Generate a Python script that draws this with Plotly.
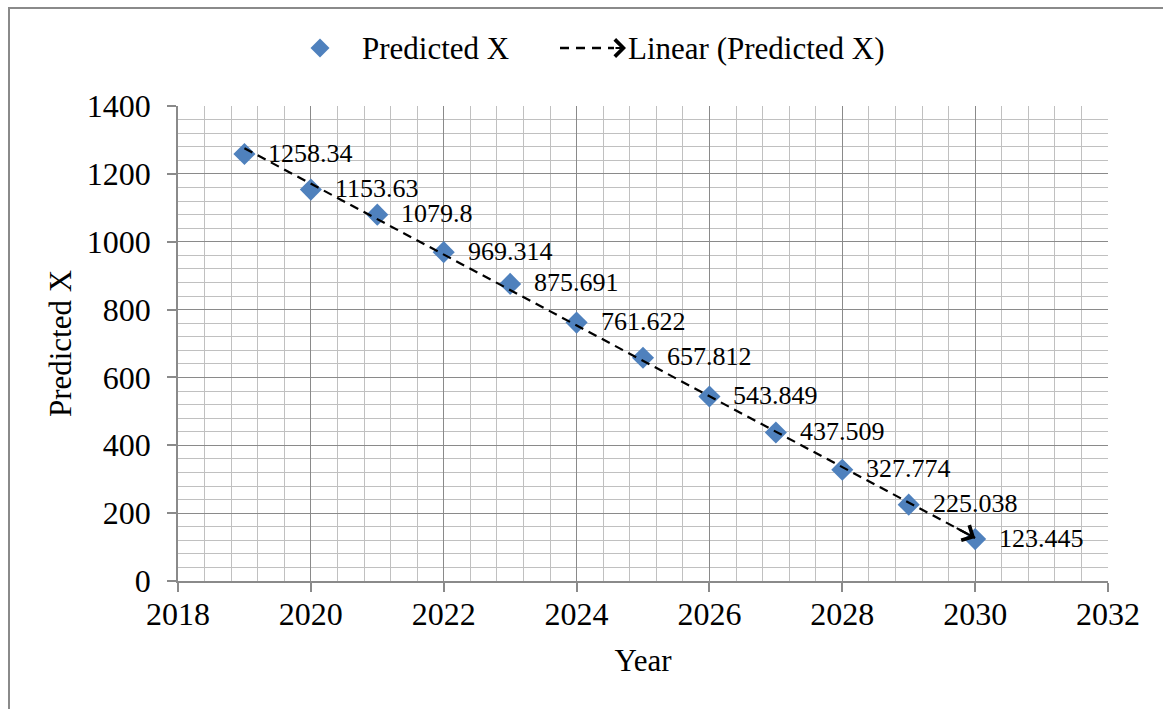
import numpy as np
import plotly.graph_objects as go

# Forecast data
years = [2019, 2020, 2021, 2022, 2023, 2024, 2025, 2026, 2027, 2028, 2029, 2030]
predicted_x = [1258.34, 1153.63, 1079.8, 969.314, 875.691, 761.622,
               657.812, 543.849, 437.509, 327.774, 225.038, 123.445]
value_labels = ["1258.34", "1153.63", "1079.8", "969.314", "875.691", "761.622",
                "657.812", "543.849", "437.509", "327.774", "225.038", "123.445"]

x_ticks = [2018, 2020, 2022, 2024, 2026, 2028, 2030, 2032]
y_ticks = [0, 200, 400, 600, 800, 1000, 1200, 1400]

series_name = "Predicted X"
trend_name = "Linear (Predicted X)"

FONT = "Liberation Serif, Times New Roman, serif"
BLUE = "#4F81BD"
MAJOR_GRID = "#8A8A8A"
MINOR_GRID = "#C0C0C0"

W, H = 1163, 709
ML, MR, MT, MB = 178, 55, 106, 128
PW, PH = W - ML - MR, H - MT - MB


def px_x(p):
    """Pixel column -> paper x."""
    return (p - ML) / PW


def px_y(p):
    """Pixel row -> paper y."""
    return (H - MB - p) / PH


# Least-squares linear trend
slope, intercept = np.polyfit(years, predicted_x, 1)
trend_x = [years[0], years[-1]]
trend_y = [slope * x + intercept for x in trend_x]

fig = go.Figure()

fig.add_trace(go.Scatter(
    x=years, y=predicted_x, mode="markers", name=series_name,
    marker=dict(symbol="diamond", size=17, color=BLUE),
    showlegend=False,
))

fig.add_trace(go.Scatter(
    x=trend_x, y=trend_y, mode="lines", name=trend_name,
    line=dict(color="black", width=2.2, dash="9px,6px"),
    showlegend=False,
))

# Value labels next to each point
for xv, yv, lab in zip(years, predicted_x, value_labels):
    fig.add_annotation(x=xv, y=yv, text=lab, showarrow=False,
                       xanchor="left", yanchor="middle", xshift=22, yshift=1,
                       font=dict(family=FONT, size=26, color="black"))

# Arrowhead at the end of the trendline
x_back = years[-1] - 0.3
fig.add_annotation(x=trend_x[1], y=trend_y[1], ax=x_back, ay=slope * x_back + intercept,
                   xref="x", yref="y", axref="x", ayref="y", text="",
                   showarrow=True, arrowhead=4, arrowsize=1.5, arrowwidth=2.2,
                   arrowcolor="black")

# Outer chart border
fig.add_shape(type="rect", xref="paper", yref="paper",
              x0=px_x(9), x1=px_x(W + 20), y0=px_y(H + 20), y1=px_y(8),
              line=dict(color="#8A8A8A", width=2), layer="below")

# Legend (drawn in paper space)
leg_y = px_y(48)
dx, dy = 9.5 / PW, 9.5 / PH
cx = px_x(320)
fig.add_shape(type="path", xref="paper", yref="paper",
              path=f"M {cx - dx} {leg_y} L {cx} {leg_y + dy} L {cx + dx} {leg_y} L {cx} {leg_y - dy} Z",
              fillcolor=BLUE, line=dict(width=0))
fig.add_annotation(x=px_x(360), y=leg_y, xref="paper", yref="paper", text=series_name,
                   showarrow=False, xanchor="left", yanchor="middle",
                   font=dict(family=FONT, size=31, color="black"))
fig.add_shape(type="line", xref="paper", yref="paper",
              x0=px_x(560), x1=px_x(614), y0=leg_y, y1=leg_y,
              line=dict(color="black", width=2.4, dash="9px,7px"))
fig.add_annotation(x=px_x(626), y=leg_y, xref="paper", yref="paper",
                   ax=-12, ay=0, text="", showarrow=True, arrowhead=4,
                   arrowsize=1.5, arrowwidth=2.2, arrowcolor="black")
fig.add_annotation(x=px_x(626), y=leg_y, xref="paper", yref="paper", text=trend_name,
                   showarrow=False, xanchor="left", yanchor="middle",
                   font=dict(family=FONT, size=31, color="black"))

axis_common = dict(
    showline=True, linecolor=MAJOR_GRID, linewidth=1.5,
    ticks="outside", ticklen=9, tickcolor=MAJOR_GRID, tickwidth=1.5,
    showgrid=True, gridcolor=MAJOR_GRID, gridwidth=1.3,
    zeroline=False, mirror=False,
    tickfont=dict(family=FONT, size=32, color="black"),
)

fig.update_xaxes(
    range=[2018, 2032], tickvals=x_ticks, ticktext=[str(v) for v in x_ticks],
    title=dict(text="Year", font=dict(family=FONT, size=31, color="black"), standoff=18),
    minor=dict(dtick=0.4, tick0=2018, showgrid=True, gridcolor=MINOR_GRID, gridwidth=1.3, ticks=""),
    ticklabelstandoff=-5,
    **axis_common,
)
fig.update_yaxes(
    range=[0, 1400], tickvals=y_ticks, ticktext=[str(v) for v in y_ticks],
    title=dict(text="Predicted X", font=dict(family=FONT, size=31, color="black"), standoff=6),
    minor=dict(dtick=40, tick0=0, showgrid=True, gridcolor=MINOR_GRID, gridwidth=1.3, ticks=""),
    ticklabelstandoff=10,
    **axis_common,
)

fig.update_layout(
    width=W, height=H,
    margin=dict(l=ML, r=MR, t=MT, b=MB, autoexpand=False),
    paper_bgcolor="white", plot_bgcolor="white",
    font=dict(family=FONT, color="black"),
    showlegend=False,
)

fig.write_html("out.html")
